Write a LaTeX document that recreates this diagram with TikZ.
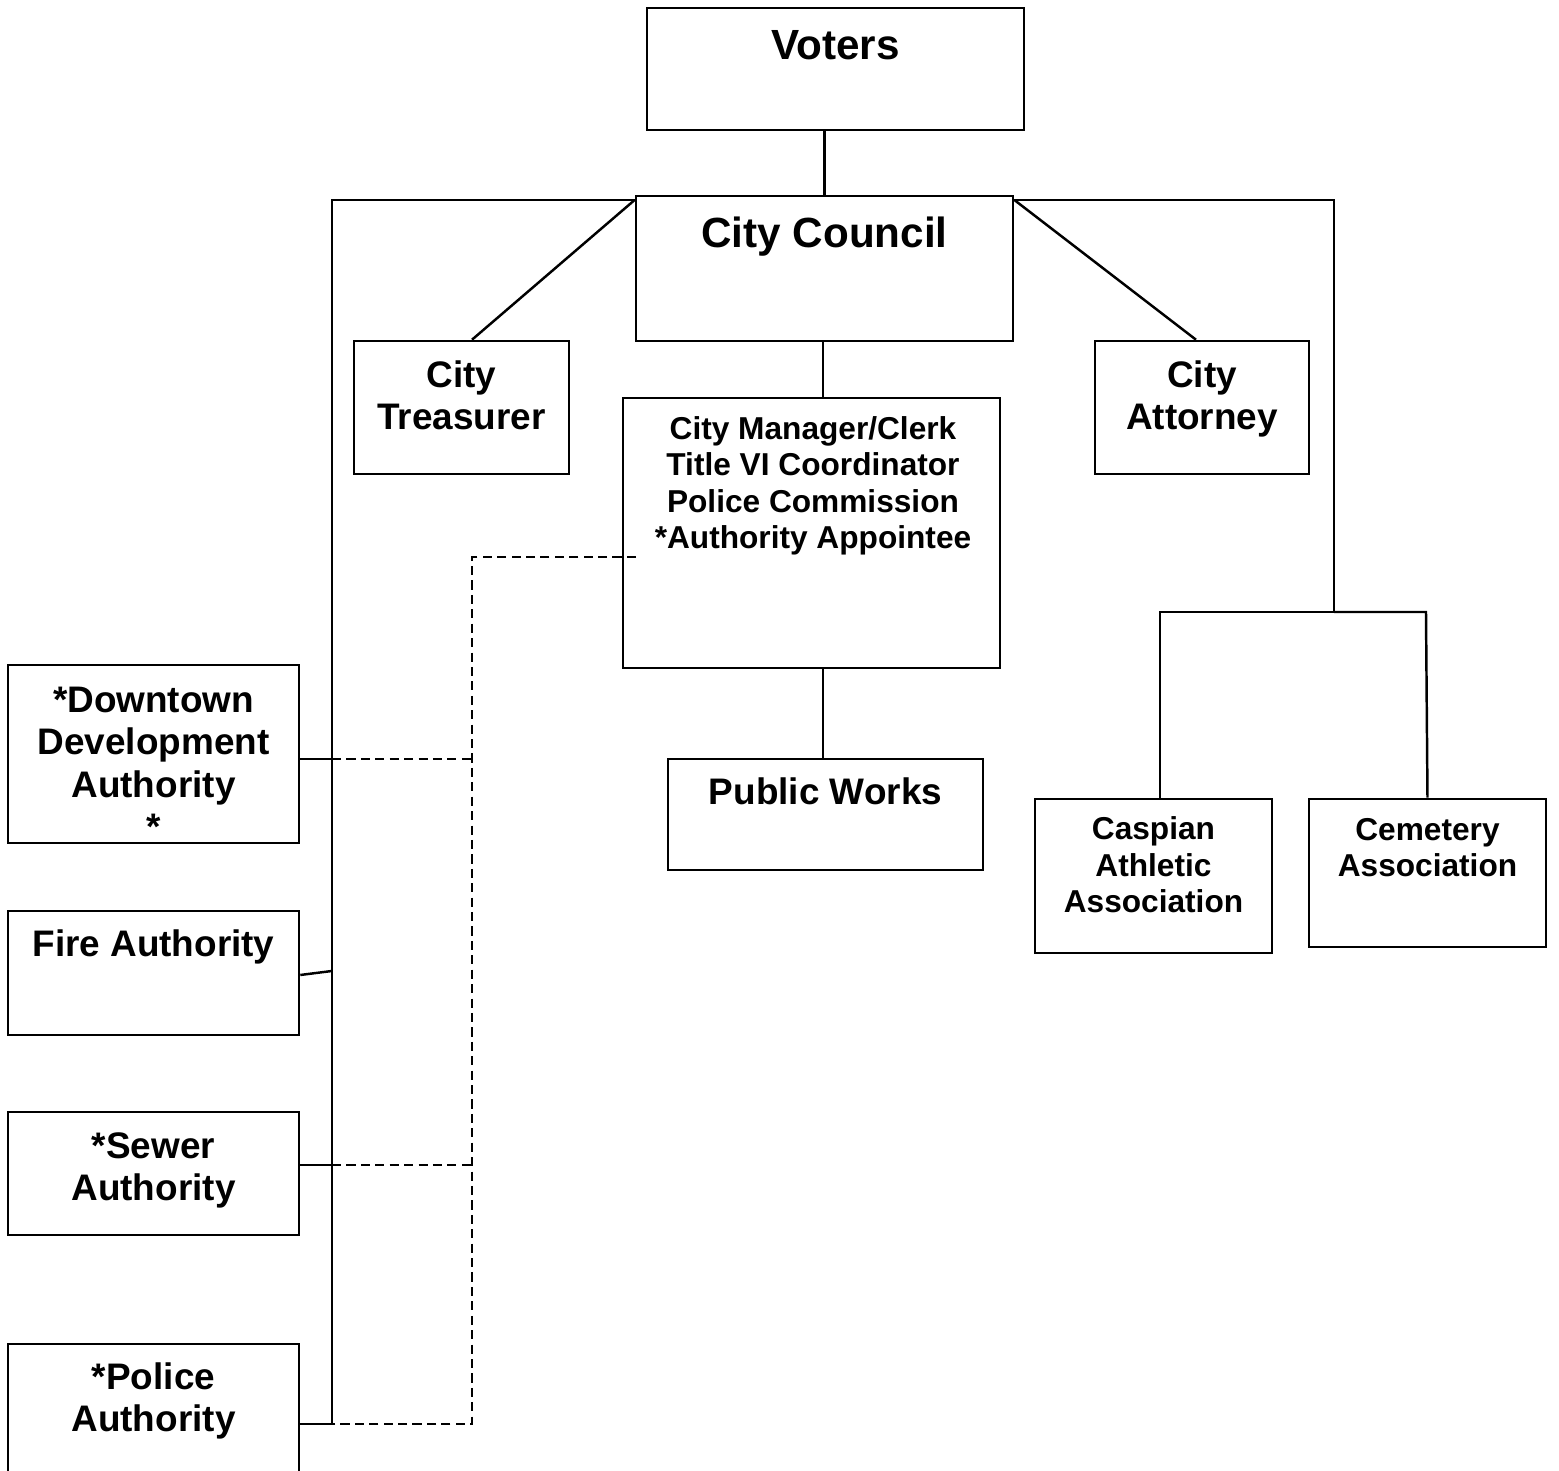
\documentclass[tikz,border=0pt]{standalone}
\usepackage{fontspec}
\setmainfont{Liberation Sans}
\begin{document}
\begin{tikzpicture}[x=0.01cm,y=-0.01cm,
  line width=0.7pt,
  box/.style={draw, rectangle, inner sep=0pt, line width=0.7pt},
  lbl/.style={anchor=base, align=center, inner sep=0pt},
  bigtxt/.style={lbl, font=\fontsize{12}{14}\selectfont\bfseries},
  midtxt/.style={lbl, font=\fontsize{10.5}{12.1}\selectfont\bfseries},
  smalltxt/.style={lbl, font=\fontsize{9}{10.4}\selectfont\bfseries},
  dashline/.style={dash pattern=on 2.6pt off 1.5pt, line width=0.55pt}]
\useasboundingbox (0,0) rectangle (1559,1471);
% boxes
\node[box, minimum width=3.77cm, minimum height=1.22cm] (voters) at (835.5,69) {};
\node[box, minimum width=3.77cm, minimum height=1.45cm] (council) at (824.5,268.5) {};
\node[box, minimum width=2.15cm, minimum height=1.33cm] (treasurer) at (461.5,407.5) {};
\node[box, minimum width=3.77cm, minimum height=2.70cm] (manager) at (811.5,533) {};
\node[box, minimum width=2.14cm, minimum height=1.33cm] (attorney) at (1202,407.5) {};
\node[box, minimum width=3.15cm, minimum height=1.11cm] (pw) at (825.5,814.5) {};
\node[box, minimum width=2.37cm, minimum height=1.54cm] (caspian) at (1153.5,876) {};
\node[box, minimum width=2.37cm, minimum height=1.48cm] (cemetery) at (1427.5,873) {};
\node[box, minimum width=2.91cm, minimum height=1.78cm] (downtown) at (153.5,754) {};
\node[box, minimum width=2.91cm, minimum height=1.24cm] (fire) at (153.5,973) {};
\node[box, minimum width=2.91cm, minimum height=1.23cm] (sewer) at (153.5,1173.5) {};
\node[box, minimum width=2.91cm, minimum height=1.56cm] (police) at (153.5,1422) {};
% texts (base anchor = baseline of last line)
\node[bigtxt] (tvoters) at (835.5,60) {Voters};
\node[bigtxt] (tcouncil) at (824.5,248) {City Council};
\node[midtxt] (ttreasurer) at (461.5,430) {City\\Treasurer};
\node[smalltxt] (tmanager) at (813,549) {City Manager/Clerk\\Title VI Coordinator\\Police Commission\\*Authority Appointee};
\node[midtxt] (tattorney) at (1202,430) {City\\Attorney};
\node[midtxt] (tpw) at (825.5,805) {Public Works};
\node[smalltxt] (tcaspian) at (1153.5,913) {Caspian\\Athletic\\Association};
\node[smalltxt] (tcemetery) at (1427.5,877) {Cemetery\\Association};
\node[midtxt] (tdowntown) at (153.5,840) {*Downtown\\Development\\Authority\\*};
\node[midtxt] (tfire) at (153.5,957) {Fire Authority};
\node[midtxt] (tsewer) at (153.5,1201) {*Sewer\\Authority};
\node[midtxt] (tpolice) at (153.5,1432) {*Police\\Authority};
% bus coordinates
\coordinate (LT) at (332,200);
\coordinate (LB) at (332,1424);
\coordinate (RT) at (1334,200);
\coordinate (RB) at (1334,612);
\coordinate (bd) at (332,759);
\coordinate (bf) at (332,971);
\coordinate (bs) at (332,1165);
\coordinate (bp) at (332,1424);
\coordinate (dm) at (636,557);
\coordinate (dt) at (472,557);
\coordinate (dp) at (472,1424);
% connectors
\draw (council.north |- voters.south) -- (council.north);
\draw (council.west |- LT) -- (LT) -- (LB);
\draw (council.east |- RT) -- (RT) -- (RB);
\draw (council.west |- LT) -- ([xshift=0.105cm]treasurer.north);
\draw (council.east |- RT) -- ([xshift=-0.06cm]attorney.north);
\draw ([xshift=-0.015cm]council.south) -- ([xshift=-0.015cm]council.south |- manager.north);
\draw ([xshift=-0.025cm]pw.north |- manager.south) -- ([xshift=-0.025cm]pw.north);
\draw ([xshift=0.065cm]caspian.north) |- (RB);
\draw (RB) -- ([xshift=-0.015cm]cemetery.north |- RB) -- (cemetery.north);
\draw (downtown.east |- bd) -- (bd);
\draw ([yshift=-0.02cm]fire.east) -- (bf);
\draw (sewer.east |- bs) -- (bs);
\draw (police.east |- bp) -- (bp);
% dashed
\draw[dashline] (dm) -- (dt) -- (dp) -- (bp);
\draw[dashline] (bd) -- (bd -| dt);
\draw[dashline] (bs) -- (bs -| dt);
\end{tikzpicture}
\end{document}
